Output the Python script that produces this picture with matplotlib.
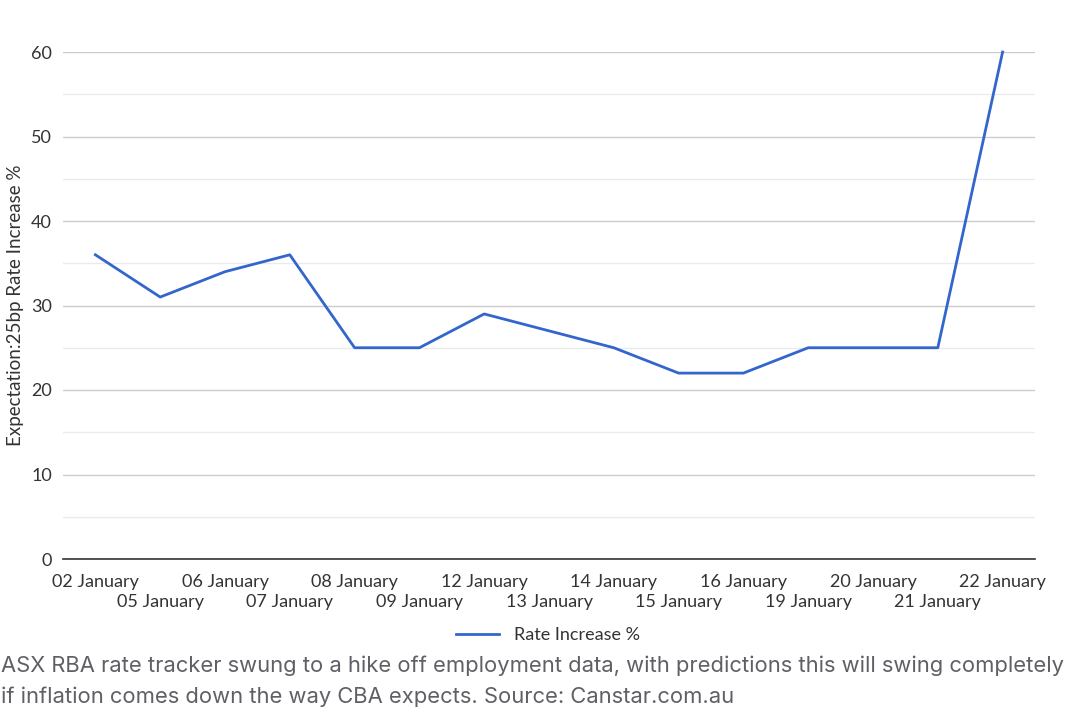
import matplotlib.pyplot as plt
from matplotlib.patches import Rectangle

# Data
dates = ['02 January', '05 January', '06 January', '07 January', '08 January',
         '09 January', '12 January', '13 January', '14 January', '15 January',
         '16 January', '19 January', '20 January', '21 January', '22 January']
rate_increase = [36, 31, 34, 36, 25, 25, 29, 27, 25, 22, 22, 25, 25, 25, 60]

caption = ("ASX RBA rate tracker swung to a hike off employment data, with predictions this will swing completely\n"
           "if inflation comes down the way CBA expects. Source: Canstar.com.au")

plt.rcParams['font.family'] = ['Lato', 'DejaVu Sans']

fig = plt.figure(figsize=(10.8, 7.23), dpi=100)
ax = fig.add_axes([63 / 1080, 1 - 559 / 723, (1035 - 63) / 1080, (559 - 52) / 723])

x = list(range(len(dates)))
line, = ax.plot(x, rate_increase, color='#3366cc', linewidth=2.0,
                label='Rate Increase %', zorder=3, clip_on=False)

ax.set_xlim(-0.5, len(dates) - 0.5)
ax.set_ylim(0, 60)
ax.set_yticks(range(0, 61, 10))
ax.set_yticks(range(5, 60, 10), minor=True)
ax.grid(True, which='major', axis='y', color='#cccccc', linewidth=1.0)
ax.grid(True, which='minor', axis='y', color='#ebebeb', linewidth=1.0)
ax.set_axisbelow(True)

for s in ['top', 'right', 'left']:
    ax.spines[s].set_visible(False)
ax.spines['bottom'].set_color('#333333')
ax.spines['bottom'].set_linewidth(1.2)

# alternate date labels on two rows: even ones as major ticks, odd ones as minor
ax.set_xticks(x[0::2])
ax.set_xticklabels(dates[0::2], fontsize=13, color='#333333')
ax.set_xticks(x[1::2], minor=True)
ax.set_xticklabels(dates[1::2], minor=True, fontsize=13, color='#333333')
ax.tick_params(axis='x', which='major', length=0, pad=11)
ax.tick_params(axis='x', which='minor', length=0, pad=25)
ax.tick_params(axis='y', which='both', length=0, labelsize=13, labelcolor='#333333', pad=8)

ax.set_ylabel('Expectation:25bp Rate Increase %', fontsize=13.5, color='#333333', labelpad=5)

fig.legend(handles=[line], loc='center', bbox_to_anchor=(548 / 1080, 1 - 635 / 723),
           frameon=False, fontsize=13, handlelength=2.4, labelcolor='#333333')

# caption area covering the bottom of the legend
fig.patches.append(Rectangle((0, 0), 1, 1 - 642 / 723, transform=fig.transFigure,
                             facecolor='white', edgecolor='none', zorder=5))
fig.text(1 / 1080, 1 - 656 / 723, caption, fontsize=15.8, color='#5f5f66',
         family=['Inter', 'DejaVu Sans'], linespacing=1.6, zorder=6, va='top')

plt.savefig('out.png', dpi=100)
